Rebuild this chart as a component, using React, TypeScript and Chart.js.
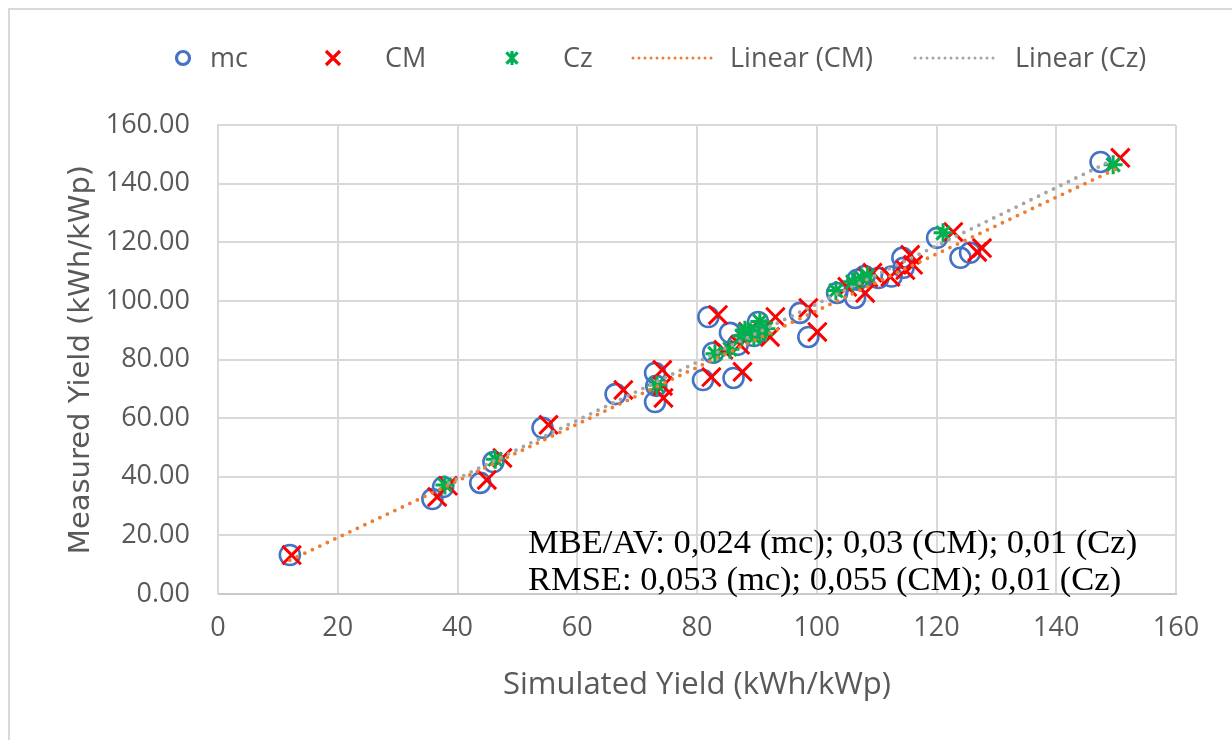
import React, { useEffect, useRef } from "react";
import { Chart, registerables } from "chart.js";

Chart.register(...registerables);

// ---- Data ----
const mcX = [12.0, 35.8, 37.6, 43.8, 46.0, 54.2, 66.4, 73.0, 73.0, 73.2, 81.0, 86.1, 81.9, 85.5, 82.7, 86.8, 89.5, 90.2, 97.2, 98.6, 103.4, 106.4, 106.8, 108.0, 110.3, 112.5, 114.3, 114.5, 120.1, 124.0, 125.6, 147.4];
const mcY = [13.3, 32.4, 36.5, 37.9, 45.0, 56.7, 68.2, 75.4, 65.5, 71.0, 73.0, 73.7, 94.5, 89.1, 82.3, 85.0, 88.0, 92.8, 95.9, 87.7, 102.7, 101.0, 107.2, 108.5, 107.8, 108.3, 114.7, 111.3, 121.5, 114.7, 116.4, 147.4];

const cmX = [12.3, 36.6, 38.4, 44.9, 47.5, 55.2, 67.7, 74.2, 74.4, 74.3, 82.4, 87.6, 83.5, 87.2, 84.4, 88.5, 92.2, 93.1, 98.6, 100.1, 105.1, 108.1, 109.3, 108.6, 112.3, 114.8, 115.6, 116.1, 122.8, 126.8, 127.6, 150.7];
const cmY = [13.3, 33.1, 36.9, 38.9, 46.4, 57.7, 69.6, 76.5, 66.9, 71.0, 74.0, 75.8, 95.2, 85.0, 83.3, 89.5, 87.7, 94.5, 97.6, 89.4, 104.8, 102.7, 109.6, 108.0, 108.2, 110.5, 115.7, 112.3, 123.5, 116.7, 118.0, 148.8];

const czX = [37.9, 46.3, 73.3, 83.0, 85.5, 87.5, 88.0, 88.5, 89.5, 90.5, 90.5, 91.5, 103.2, 106.0, 107.5, 108.5, 121.1, 149.5];
const czY = [37.2, 46.0, 71.3, 82.0, 83.5, 88.0, 90.0, 89.5, 87.5, 88.5, 93.0, 90.5, 103.5, 106.5, 107.8, 108.5, 123.2, 146.4];

const cmTrendX = [12.0, 151.0];
const cmTrendY = [11.5, 146.0];
const czTrendX = [37.9, 149.5];
const czTrendY = [37.3, 148.1];

const xTickValues = [0, 20, 40, 60, 80, 100, 120, 140, 160];
const yTickValues = [0, 20, 40, 60, 80, 100, 120, 140, 160];

const legendLabels = ["mc", "CM", "Cz", "Linear (CM)", "Linear (Cz)"];
const legendKinds = ["circle", "crossRot", "star", "line", "line"];
const legendColors = ["#4472c4", "#ff0000", "#00b050", "#ed7d31", "#a5a5a5"];

const annotationLines = [
  "MBE/AV: 0,024 (mc); 0,03 (CM); 0,01 (Cz)",
  "RMSE: 0,053 (mc); 0,055 (CM); 0,01 (Cz)",
];

const xTitle = "Simulated Yield (kWh/kWp)";
const yTitle = "Measured Yield (kWh/kWp)";

// ---- Styles ----
const TICK_FONT = '"Open Sans", sans-serif';
const TEXT_COLOR = "#595959";
const GRID_COLOR = "#d9d9d9";
const legendSymbolX = [183, 333, 512, 633, 915];
const legendTextX = [210, 385, 563, 730, 1015];
const legendLineWidth = 79;
const legendY = 58;

function drawMarker(ctx: CanvasRenderingContext2D, kind: string, x: number, y: number, r: number) {
  ctx.beginPath();
  if (kind === "circle") {
    ctx.arc(x, y, r, 0, Math.PI * 2);
  } else if (kind === "crossRot") {
    ctx.moveTo(x - r, y - r);
    ctx.lineTo(x + r, y + r);
    ctx.moveTo(x + r, y - r);
    ctx.lineTo(x - r, y + r);
  } else if (kind === "star") {
    const d = r * 0.8;
    ctx.moveTo(x, y - r);
    ctx.lineTo(x, y + r);
    ctx.moveTo(x - d, y - d);
    ctx.lineTo(x + d, y + d);
    ctx.moveTo(x + d, y - d);
    ctx.lineTo(x - d, y + d);
  }
  ctx.stroke();
}

const legendPlugin = {
  id: "excelLegend",
  afterDraw(chart: any) {
    const ctx: CanvasRenderingContext2D = chart.ctx;
    ctx.save();
    ctx.font = `27px ${TICK_FONT}`;
    ctx.textBaseline = "middle";
    ctx.textAlign = "left";
    legendLabels.forEach((label, i) => {
      const kind = legendKinds[i];
      ctx.strokeStyle = legendColors[i];
      if (kind === "line") {
        ctx.lineWidth = 3;
        ctx.lineCap = "round";
        ctx.setLineDash([0, 6]);
        ctx.beginPath();
        ctx.moveTo(legendSymbolX[i], legendY);
        ctx.lineTo(legendSymbolX[i] + legendLineWidth, legendY);
        ctx.stroke();
        ctx.setLineDash([]);
      } else {
        ctx.lineWidth = 3.2;
        ctx.lineCap = "butt";
        drawMarker(ctx, kind, legendSymbolX[i], legendY, kind === "circle" ? 6.5 : 7);
      }
      ctx.fillStyle = TEXT_COLOR;
      ctx.fillText(label, legendTextX[i], legendY + 1);
    });
    ctx.restore();
  },
};

const annotationPlugin = {
  id: "statsText",
  afterDatasetsDraw(chart: any) {
    const ctx: CanvasRenderingContext2D = chart.ctx;
    const area = chart.chartArea;
    ctx.save();
    ctx.font = '34.5px "Liberation Serif", "Times New Roman", serif';
    ctx.fillStyle = "#000000";
    ctx.textBaseline = "alphabetic";
    ctx.textAlign = "left";
    const x = area.left + 310;
    ctx.fillText(annotationLines[0], x, area.bottom - 41);
    ctx.fillText(annotationLines[1], x, area.bottom - 4);
    ctx.restore();
  },
};

export default function App() {
  const ref = useRef<HTMLCanvasElement>(null);
  useEffect(() => {
    const toPts = (xs: number[], ys: number[]) => xs.map((x, i) => ({ x, y: ys[i] }));
    const chart = new Chart(ref.current as HTMLCanvasElement, {
      type: "scatter",
      data: {
        datasets: [
          {
            label: "Linear (CM)",
            type: "line",
            data: toPts(cmTrendX, cmTrendY),
            borderColor: "#ed7d31",
            borderWidth: 3.8,
            borderDash: [0, 8.3],
            borderCapStyle: "round",
            pointRadius: 0,
            fill: false,
            order: 1,
          } as any,
          {
            label: "Linear (Cz)",
            type: "line",
            data: toPts(czTrendX, czTrendY),
            borderColor: "#a5a5a5",
            borderWidth: 3.8,
            borderDash: [0, 8.3],
            borderDashOffset: 4,
            borderCapStyle: "round",
            pointRadius: 0,
            fill: false,
            order: 0,
          } as any,
          {
            label: "Cz",
            data: toPts(czX, czY),
            pointStyle: "star",
            pointRadius: 9.5,
            borderColor: "#00b050",
            backgroundColor: "rgba(0,0,0,0)",
            borderWidth: 3,
            order: 2,
          },
          {
            label: "CM",
            data: toPts(cmX, cmY),
            pointStyle: "crossRot",
            pointRadius: 13,
            borderColor: "#ff0000",
            backgroundColor: "rgba(0,0,0,0)",
            borderWidth: 3,
            order: 3,
          },
          {
            label: "mc",
            data: toPts(mcX, mcY),
            pointStyle: "circle",
            pointRadius: 10,
            borderColor: "#4472c4",
            backgroundColor: "rgba(0,0,0,0)",
            borderWidth: 2.6,
            order: 4,
          },
        ],
      },
      options: {
        responsive: false,
        animation: false,
        devicePixelRatio: 1,
        layout: { padding: { top: 125, right: 56, left: 0, bottom: 0 } },
        plugins: {
          legend: { display: false },
          tooltip: { enabled: false },
        },
        scales: {
          x: {
            type: "linear",
            min: 0,
            max: 160,
            afterBuildTicks: (scale: any) => {
              scale.ticks = xTickValues.map((v) => ({ value: v }));
            },
            afterFit: (scale: any) => {
              scale.height = 146;
            },
            ticks: {
              font: { family: TICK_FONT, size: 27 },
              color: TEXT_COLOR,
              padding: 18,
              maxRotation: 0,
              callback: (v: any) => String(v),
            },
            grid: { color: GRID_COLOR, lineWidth: 2, drawTicks: false },
            border: { color: "#c8c8c8", width: 2 },
            title: {
              display: true,
              text: xTitle,
              font: { family: TICK_FONT, size: 31 },
              color: TEXT_COLOR,
              padding: { top: 0, bottom: 36 },
            },
          },
          y: {
            type: "linear",
            min: 0,
            max: 160,
            afterBuildTicks: (scale: any) => {
              scale.ticks = yTickValues.map((v) => ({ value: v }));
            },
            afterFit: (scale: any) => {
              scale.width = 218;
            },
            ticks: {
              font: { family: TICK_FONT, size: 27 },
              color: TEXT_COLOR,
              padding: 28,
              callback: (v: any) => Number(v).toFixed(2),
            },
            grid: { color: GRID_COLOR, lineWidth: 2, drawTicks: false },
            border: { color: GRID_COLOR, width: 2 },
            title: {
              display: true,
              text: yTitle,
              font: { family: '"DejaVu Sans", sans-serif', size: 29 },
              color: TEXT_COLOR,
              padding: { top: 64, bottom: 0 },
            },
          },
        },
      },
      plugins: [legendPlugin, annotationPlugin],
    });
    return () => chart.destroy();
  }, []);

  return (
    <div
      style={{
        position: "fixed",
        left: 0,
        top: 0,
        width: 1232,
        height: 740,
        overflow: "hidden",
        background: "#ffffff",
      }}
    >
      <div
        style={{
          position: "absolute",
          left: 8,
          top: 8,
          width: 1400,
          height: 900,
          border: "2px solid #d9d9d9",
          boxSizing: "border-box",
        }}
      />
      <canvas
        ref={ref}
        width={1232}
        height={740}
        style={{ position: "absolute", left: 0, top: 0, width: 1232, height: 740 }}
      />
    </div>
  );
}
